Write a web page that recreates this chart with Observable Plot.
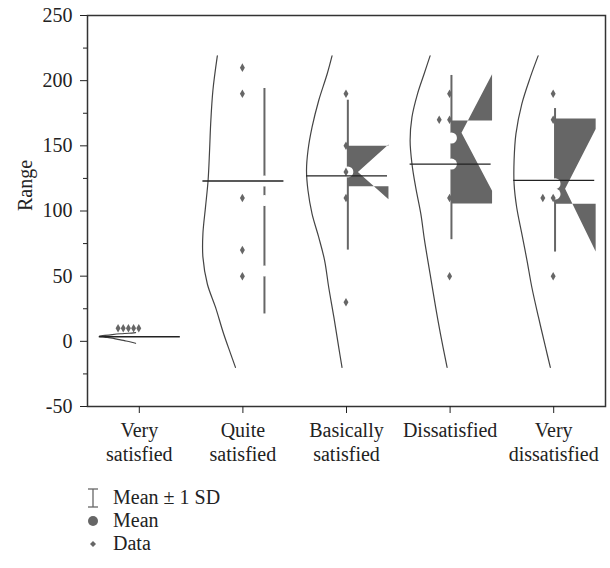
<!DOCTYPE html>
<html><head><meta charset="utf-8">
<script src="https://cdn.jsdelivr.net/npm/d3@7"></script>
<script src="https://cdn.jsdelivr.net/npm/@observablehq/plot@0.6"></script>
<style>
body{margin:0;background:#fff;font-family:"Liberation Serif",serif;}
#legend{position:relative;height:93px;font-size:20px;color:#222;width:610px;}
.row{position:absolute;left:0;height:23px;display:flex;align-items:center;}
.row svg{margin-left:83px;}
.row span{margin-left:10px;}
</style></head><body>
<div id="chart"></div>
<div id="legend">
  <div class="row" style="top:11px"><svg width="20" height="23"><g stroke="#666" stroke-width="1.3"><line x1="10" y1="3" x2="10" y2="21"/><line x1="5" y1="3" x2="15" y2="3"/><line x1="5" y1="21" x2="15" y2="21"/></g></svg><span>Mean ± 1 SD</span></div>
  <div class="row" style="top:34px"><svg width="20" height="23"><circle cx="10" cy="12" r="5" fill="#666"/></svg><span>Mean</span></div>
  <div class="row" style="top:57px"><svg width="20" height="23"><path d="M10,9 L13,12 L10,15 L7,12 Z" fill="#666"/></svg><span>Data</span></div>
</div>
<script>
// ---- data ----
const categories = ["Very\nsatisfied", "Quite\nsatisfied", "Basically\nsatisfied", "Dissatisfied", "Very\ndissatisfied"];
const yTicks = [-50, 0, 50, 100, 150, 200, 250];
const yMinorTicks = [-25, 25, 75, 125, 175, 225];

const observations = [
  [10, 10, 10, 10, 10],
  [210, 190, 110, 70, 50],
  [190, 150, 130, 110, 30],
  [190, 170, 170, 110, 50],
  [190, 170, 110, 110, 50]
];
const means = [3.5, 123, 127, 136, 123.5];
const sdLower = [null, 21, 70, 78, 68.5];
const sdUpper = [null, 194, 185, 204, 178.6];
const q1 = [null, null, 119, 105.7, 105.6];
const q3 = [null, null, 150, 169.4, 171];
const medians = [null, null, 130, 160, 117];
const notchLower = [null, null, 109, 115.5, 69];
const notchUpper = [null, null, 151, 205, 163];
const centreMarks = [[], [123, 108, 54], [130], [156, 136], [121, 113]];

// kernel density outline: y values and relative widths
const densityY = [
  [6.7, 6.2, 5.8, 5.2, 4.5, 3.9, 3.3, 2.5, 1.5, 0.5, -0.5, -1.5],
  [219, 192.5, 167, 146.4, 123.4, 103, 82.5, 64.6, 44, 26.2, 5.8, -9.6, -20],
  [219, 205.3, 184.8, 164.3, 146.4, 131, 115.7, 97.8, 79.9, 62, 41.5, 18.5, -4.5, -20],
  [219, 205.3, 189.9, 172, 154.1, 136.2, 118.3, 97.8, 77.4, 51.8, 26.2, 5.8, -20],
  [219, 202.7, 182.2, 159.2, 138.7, 120.8, 102.9, 82.5, 62, 41.5, 18.5, -4.5, -20]
];
const densityW = [
  [0.02, 0.2, 0.43, 0.65, 0.85, 1.0, 0.85, 0.65, 0.5, 0.32, 0.15, 0.02],
  [0.61, 0.73, 0.79, 0.82, 0.86, 0.93, 1.0, 1.0, 0.88, 0.66, 0.44, 0.25, 0.12],
  [0.31, 0.44, 0.67, 0.85, 0.96, 1.0, 0.96, 0.85, 0.67, 0.51, 0.40, 0.26, 0.13, 0.04],
  [0.46, 0.62, 0.80, 0.95, 1.0, 0.95, 0.85, 0.71, 0.61, 0.46, 0.31, 0.18, 0.0],
  [0.34, 0.55, 0.78, 0.94, 0.99, 0.99, 0.92, 0.78, 0.64, 0.51, 0.33, 0.14, 0.01]
];

// ---- layout (in category units) ----
const LAY = {
  violinBase: -0.029, violinWidth: 0.357,
  boxLeft: 0.01, boxRight: 0.405, notchX: 0.11,
  sdX: [0, 0.208, 0.013, 0.013, 0.013],
  meanLeft: -0.386, meanRight: 0.396,
  pointX: -0.005
};

const violin = densityY.flatMap((ys, i) => ys.map((y, k) => ({
  g: i, y, x: i + 1 + LAY.violinBase - densityW[i][k] * LAY.violinWidth
})));

const boxes = [];
q1.forEach((lo, i) => {
  if (lo == null) return;
  const c = i + 1, xl = c + LAY.boxLeft, xr = c + LAY.boxRight, xn = c + LAY.notchX;
  [[xl, lo], [xl, q3[i]], [xr, q3[i]], [xr, notchUpper[i]], [xn, medians[i]], [xr, notchLower[i]], [xr, lo]]
    .forEach(([x, y]) => boxes.push({g: i, x, y}));
});

const sdData = sdLower.map((lo, i) => ({x: i + 1 + LAY.sdX[i], y1: lo, y2: sdUpper[i]})).filter(d => d.y1 != null);
const marksData = centreMarks.flatMap((ys, i) => ys.map(y => ({x: i + 1 + LAY.sdX[i], y})));
const meanData = means.map((m, i) => ({y: m, x1: i + 1 + LAY.meanLeft, x2: i + 1 + LAY.meanRight}));

const points = observations.flatMap((vals, i) => {
  const seen = {};
  return vals.map(v => {
    const n = vals.filter(u => u === v).length;
    const k = seen[v] = (seen[v] ?? -1) + 1;
    const step = Math.min(0.1, 0.2 / Math.max(1, n - 1));
    return {x: i + 1 + LAY.pointX - k * step, y: v};
  });
});

const chart = Plot.plot({
  width: 610, height: 475,
  marginLeft: 87, marginRight: 5, marginTop: 15, marginBottom: 69,
  x: {domain: [0.5, 5.5]},
  y: {domain: [-50, 250]},
  style: {fontFamily: "Liberation Serif", fontSize: "20px", color: "#222", background: "white"},
  marks: [
    Plot.line(violin, {x: "x", y: "y", z: "g", curve: "catmull-rom", stroke: "#444", strokeWidth: 1.2}),
    Plot.line(boxes, {x: "x", y: "y", z: "g", fill: "#666", stroke: "none"}),
    Plot.ruleX(sdData, {x: "x", y1: "y1", y2: "y2", stroke: "#666", strokeWidth: 2}),
    Plot.dot(marksData, {x: "x", y: "y", r: 5.5, fill: "white"}),
    Plot.dot(points, {x: "x", y: "y", symbol: "diamond", r: 2.6, fill: "#666"}),
    Plot.ruleY(meanData, {y: "y", x1: "x1", x2: "x2", stroke: "#222", strokeWidth: 1.3}),
    Plot.frame({stroke: "#333", strokeWidth: 1.5}),
    Plot.axisY({ticks: yTicks, tickSize: 7, tickPadding: 8, tickFormat: d => String(d), label: null, fontSize: 20}),
    Plot.axisY({ticks: yMinorTicks, tickSize: 4, tickFormat: () => "", label: null}),
    Plot.axisX({ticks: [1, 2, 3, 4, 5], tickFormat: d => categories[d - 1], tickSize: 7, tickPadding: 6, lineHeight: 1.2, label: null, fontSize: 20}),
    Plot.text(["Range"], {frameAnchor: "left", rotate: -90, dx: -62, fontSize: 20, fill: "#222"})
  ]
});
document.getElementById("chart").appendChild(chart);
</script>
</body></html>
